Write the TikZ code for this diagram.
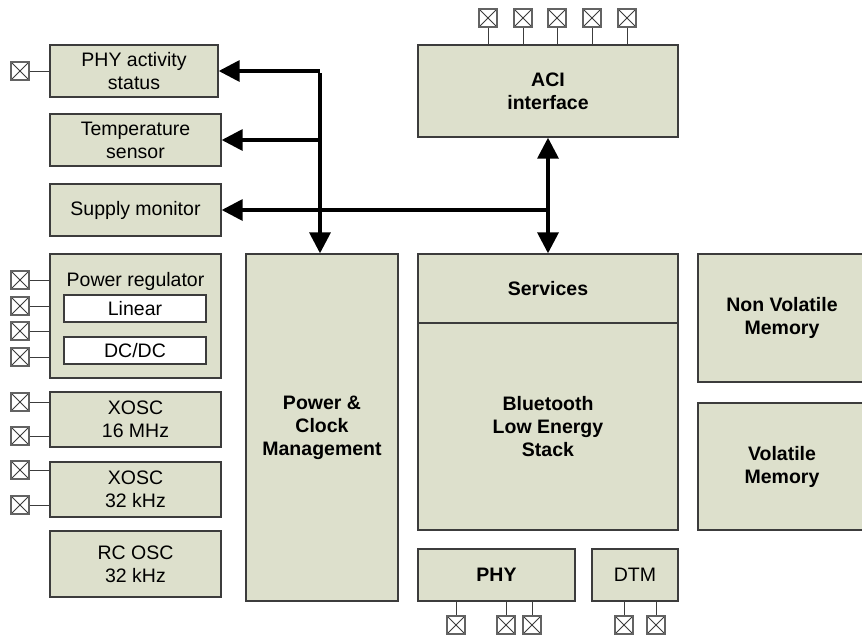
\documentclass[tikz,border=0pt]{standalone}
\usepackage{fontspec}
\setmainfont{Liberation Sans}
\usetikzlibrary{arrows.meta,calc,positioning}
\definecolor{blkfill}{HTML}{DDE0CC}
\definecolor{blkline}{HTML}{3C3C3C}
\tikzset{
  blk/.style={draw=blkline,line width=1.4pt,fill=blkfill,align=center,inner sep=0pt,
    font=\fontsize{19.5}{23}\selectfont},
  blkb/.style={blk,font=\fontsize{19.5}{23}\selectfont\bfseries},
  pinbox/.style={draw=blkline!80,line width=1.6pt,fill=white,minimum size=18pt,inner sep=0pt,
    path picture={\draw[blkline,line width=1pt]
      (path picture bounding box.south west) -- (path picture bounding box.north east)
      (path picture bounding box.north west) -- (path picture bounding box.south east);}},
  wire/.style={draw=blkline,line width=1pt},
  bus/.style={line width=3.5pt,-{Triangle[length=21pt,width=21pt]}},
}
\begin{document}
\begin{tikzpicture}[x=1pt,y=-1pt]
  \useasboundingbox (0,0) rectangle (862,641);
  % left column
  \node[blk,minimum width=168,minimum height=52] (pas) at (134,71) {PHY activity\\status};
  \node[blk,minimum width=171,minimum height=52] (tmp) at (135.5,140) {Temperature\\sensor};
  \node[blk,minimum width=171,minimum height=52] (sup) at (135.5,210) {Supply monitor};
  \node[blk,minimum width=171,minimum height=124] (preg) at (135.5,316) {};
  \node[font=\fontsize{19.5}{23}\selectfont] (pregt) at (135.5,281) {Power regulator};
  \node[blk,fill=white,minimum width=142,minimum height=27] (lin) at (135,308.5) {Linear};
  \node[blk,fill=white,minimum width=142,minimum height=27] (dcdc) at (135,350.5) {DC/DC};
  \node[blk,minimum width=171,minimum height=55] (xh) at (135.5,419.5) {XOSC\\16 MHz};
  \node[blk,minimum width=171,minimum height=55] (xk) at (135.5,489.5) {XOSC\\32 kHz};
  \node[blk,minimum width=171,minimum height=66] (rc) at (135.5,564) {RC OSC\\32 kHz};
  % middle and right
  \node[blkb,minimum width=152,minimum height=347] (pcm) at (322,427.5) {Power \&\\Clock\\Management};
  \node[blkb,minimum width=260,minimum height=92] (aci) at (548,91) {ACI\\interface};
  \node[blkb,minimum width=260,minimum height=69] (svc) at (548,288.5) {Services};
  \node[blkb,minimum width=260,minimum height=207] (ble) at (548,426.5) {Bluetooth\\Low Energy\\Stack};
  \node[blkb,minimum width=168,minimum height=128] (nvm) at (782,318) {Non Volatile\\Memory};
  \node[blkb,minimum width=168,minimum height=127] (vm) at (782,466.5) {Volatile\\Memory};
  \node[blkb,minimum width=157,minimum height=52] (phy) at (496.5,575) {PHY};
  \node[blk,minimum width=86,minimum height=52] (dtm) at (635,575) {DTM};
  % pins
  \foreach \y/\n/\b in {71/p1/pas,280/p2/preg,306/p3/preg,331/p4/preg,357/p5/preg,
      402/p6/xh,436/p7/xh,470/p8/xk,505/p9/xk}{
    \node[pinbox] (\n) at (20,\y) {};
    \draw[wire] (\n.east) -- (\n.east -| \b.west);
  }
  \foreach \x/\n in {488/t1,523/t2,557/t3,592/t4,627/t5}{
    \node[pinbox] (\n) at (\x,18) {};
    \draw[wire] (\n.south) -- (\n.south |- aci.north);
  }
  \foreach \x/\n/\b in {456/b1/phy,506/b2/phy,532/b3/phy,624/b4/dtm,656/b5/dtm}{
    \node[pinbox] (\n) at (\x,625) {};
    \draw[wire] (\n.north) -- (\n.north |- \b.south);
  }
  % buses
  \coordinate (bus1) at (320,71);
  \coordinate (bus2) at (320,140);
  \coordinate (bus3) at (aci.south |- sup.east);
  \draw[bus] (bus1) -- (bus1 -| pas.east);
  \draw[bus] (bus2) -- (tmp.east);
  \draw[bus] ([yshift=-1.75pt]bus1) -- (bus1 |- pcm.north);
  \draw[bus] (bus3) -- (sup.east);
  \draw[bus,{Triangle[length=21pt,width=21pt]}-{Triangle[length=21pt,width=21pt]}] (aci.south) -- (svc.north);
\end{tikzpicture}
\end{document}
